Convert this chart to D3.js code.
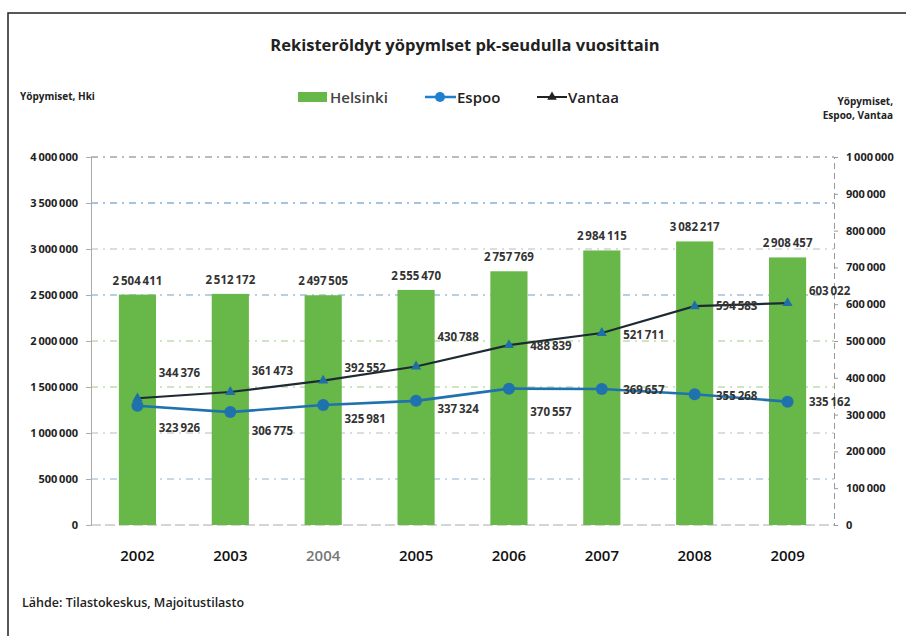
<!DOCTYPE html>
<html><head><meta charset="utf-8">
<script src="https://cdn.jsdelivr.net/npm/d3@7"></script>
<style>body{margin:0;background:#fff}svg{display:block}</style>
</head><body>
<script>
const years = ["2002","2003","2004","2005","2006","2007","2008","2009"];
const helsinki = [2504411, 2512172, 2497505, 2555470, 2757769, 2984115, 3082217, 2908457];
const espoo = [323926, 306775, 325981, 337324, 370557, 369657, 355268, 335162];
const vantaa = [344376, 361473, 392552, 430788, 488839, 521711, 594583, 603022];
const leftTicks = [0, 500000, 1000000, 1500000, 2000000, 2500000, 3000000, 3500000, 4000000];
const rightTicks = [0,100000,200000,300000,400000,500000,600000,700000,800000,900000,1000000];

// label placement (layout only)
const vantaaDy = [-24, -20, -12, -29, 2, 3, 1, -11];
const espooDy = [23, 20, 15, 9, 24, 2, 3, 1];

const W = 908, H = 636;
const M = {left: 91, right: 834, top: 157, bottom: 525};
const font = "'Open Sans', 'Noto Sans', sans-serif";
const loc = d3.formatLocale({decimal: ",", thousands: "\u2009", grouping: [3], currency: ["", ""]});
const fmt = loc.format(",d");

const svg = d3.select("body").append("svg").attr("width", W).attr("height", H)
  .style("font-family", font);

// frame
svg.append("path").attr("d", `M8,${H} L8,13 L${W-2},13`).attr("fill","none").attr("stroke","#222").attr("stroke-width",1.5);

const x = d3.scaleBand().domain(years).range([M.left, M.right]).paddingInner(0.6).paddingOuter(0.3);
const xc = d => x(d) + x.bandwidth()/2;
const yL = d3.scaleLinear().domain([0, 4000000]).range([M.bottom, M.top]);
const yR = d3.scaleLinear().domain([0, 1000000]).range([M.bottom, M.top]);

// gridlines
const gridColors = ["#9aa","#8fb3d3","#b5bcc4","#9ccb8a","#9ccb8a","#6f9fcc","#b5bcc4","#4f88bd","#777"];
svg.append("g").selectAll("line").data(leftTicks.slice(1)).join("line")
  .attr("x1", M.left).attr("x2", M.right)
  .attr("y1", d => yL(d)).attr("y2", d => yL(d))
  .attr("stroke", (d,i) => gridColors[i+1])
  .attr("stroke-width", 1)
  .attr("stroke-dasharray", "7,5,2,5");

// left axis
const axL = d3.axisLeft(yL).tickValues(leftTicks).tickFormat(fmt).tickSize(5).tickPadding(8);
const gL = svg.append("g").attr("transform", `translate(${M.left},0)`).call(axL);
gL.select(".domain").attr("stroke", "#aaa");
gL.selectAll(".tick line").attr("stroke", "#aaa");
gL.selectAll("text").attr("font-size", 11).attr("font-weight", "bold").attr("fill", "#222").attr("font-family", font);

// right axis
const axR = d3.axisRight(yR).tickValues(rightTicks).tickFormat(fmt).tickSize(4).tickPadding(8);
const gR = svg.append("g").attr("transform", `translate(${M.right},0)`).call(axR);
gR.select(".domain").attr("stroke", "#999").attr("stroke-dasharray", "6,4");
gR.selectAll(".tick line").attr("stroke", "#999");
gR.selectAll("text").attr("font-size", 11).attr("font-weight", "bold").attr("fill", "#222").attr("font-family", font);

// baseline
svg.append("line").attr("x1", M.left).attr("x2", M.right).attr("y1", M.bottom).attr("y2", M.bottom)
  .attr("stroke", "#aaa").attr("stroke-dasharray", "10,4");

// x labels
svg.append("g").selectAll("text").data(years).join("text")
  .attr("x", d => xc(d)).attr("y", 561).attr("text-anchor", "middle")
  .attr("font-size", 15).attr("font-weight", 600).attr("fill", (d,i) => i === 2 ? "#777" : "#111").text(d => d);

// bars
const green = "#67b848";
svg.append("g").selectAll("rect").data(helsinki).join("rect")
  .attr("x", (d,i) => x(years[i])).attr("width", x.bandwidth())
  .attr("y", d => yL(d)).attr("height", d => yL(0) - yL(d))
  .attr("fill", green);

svg.append("g").selectAll("text").data(helsinki).join("text")
  .attr("x", (d,i) => xc(years[i])).attr("y", d => yL(d) - 10)
  .attr("text-anchor", "middle").attr("font-size", 11.5).attr("font-weight", "bold")
  .attr("fill", "#333").text(d => fmt(d));

// lines
const line = d3.line().x((d,i) => xc(years[i])).y(d => yR(d));
svg.append("path").datum(vantaa).attr("d", line).attr("fill", "none").attr("stroke", "#1e2a33").attr("stroke-width", 2.2);
svg.append("path").datum(espoo).attr("d", line).attr("fill", "none").attr("stroke", "#1f72ad").attr("stroke-width", 2.6);

svg.append("g").selectAll("path").data(vantaa).join("path")
  .attr("transform", (d,i) => `translate(${xc(years[i])},${yR(d)})`)
  .attr("d", d3.symbol(d3.symbolTriangle, 45)).attr("fill", "#1f6fa6");
svg.append("g").selectAll("circle").data(espoo).join("circle")
  .attr("cx", (d,i) => xc(years[i])).attr("cy", d => yR(d)).attr("r", 6).attr("fill", "#1f72ad");

svg.append("g").selectAll("text").data(vantaa).join("text")
  .attr("x", (d,i) => xc(years[i]) + 42).attr("y", (d,i) => yR(d) + vantaaDy[i])
  .attr("dominant-baseline", "middle").attr("text-anchor", "middle")
  .attr("font-size", 11.5).attr("font-weight", "bold").attr("fill", "#333").text(d => fmt(d));
svg.append("g").selectAll("text").data(espoo).join("text")
  .attr("x", (d,i) => xc(years[i]) + 42).attr("y", (d,i) => yR(d) + espooDy[i])
  .attr("dominant-baseline", "middle").attr("text-anchor", "middle")
  .attr("font-size", 11.5).attr("font-weight", "bold").attr("fill", "#333").text(d => fmt(d));

// title
svg.append("text").attr("x", 465).attr("y", 51).attr("text-anchor", "middle")
  .attr("font-size", 16.5).attr("font-weight", "bold").attr("fill", "#222")
  .text("Rekisteröldyt yöpymlset pk-seudulla vuosittain");

// legend
const lg = svg.append("g").attr("font-size", 15).attr("font-weight", 600).attr("fill", "#222");
lg.append("rect").attr("x", 298).attr("y", 92).attr("width", 29).attr("height", 10).attr("fill", green);
lg.append("text").attr("x", 330).attr("y", 103).attr("fill", "#444").text("Helsinki");
lg.append("line").attr("x1", 425).attr("x2", 456).attr("y1", 97).attr("y2", 97).attr("stroke", "#1f7fd0").attr("stroke-width", 2.5);
lg.append("circle").attr("cx", 440).attr("cy", 97).attr("r", 5).attr("fill", "#1f7fd0");
lg.append("text").attr("x", 457).attr("y", 103).text("Espoo");
lg.append("line").attr("x1", 537).attr("x2", 567).attr("y1", 97).attr("y2", 97).attr("stroke", "#222").attr("stroke-width", 2);
lg.append("path").attr("transform", "translate(552,97)").attr("d", d3.symbol(d3.symbolTriangle, 40)).attr("fill", "#222");
lg.append("text").attr("x", 568).attr("y", 103).text("Vantaa");

// axis titles
svg.append("text").attr("x", 20).attr("y", 100).attr("font-size", 10).attr("font-weight", "bold").attr("fill", "#222").text("Yöpymiset, Hki");
svg.append("text").attr("x", 893).attr("y", 105).attr("text-anchor", "end").attr("font-size", 10).attr("font-weight", "bold").attr("fill", "#222").text("Yöpymiset,");
svg.append("text").attr("x", 893).attr("y", 119).attr("text-anchor", "end").attr("font-size", 10).attr("font-weight", "bold").attr("fill", "#222").text("Espoo, Vantaa");

// source
svg.append("text").attr("x", 22).attr("y", 607).attr("font-size", 12.5).attr("font-weight", 600).attr("fill", "#222").text("Lähde:  Tilastokeskus, Majoitustilasto");
</script>
</body></html>
